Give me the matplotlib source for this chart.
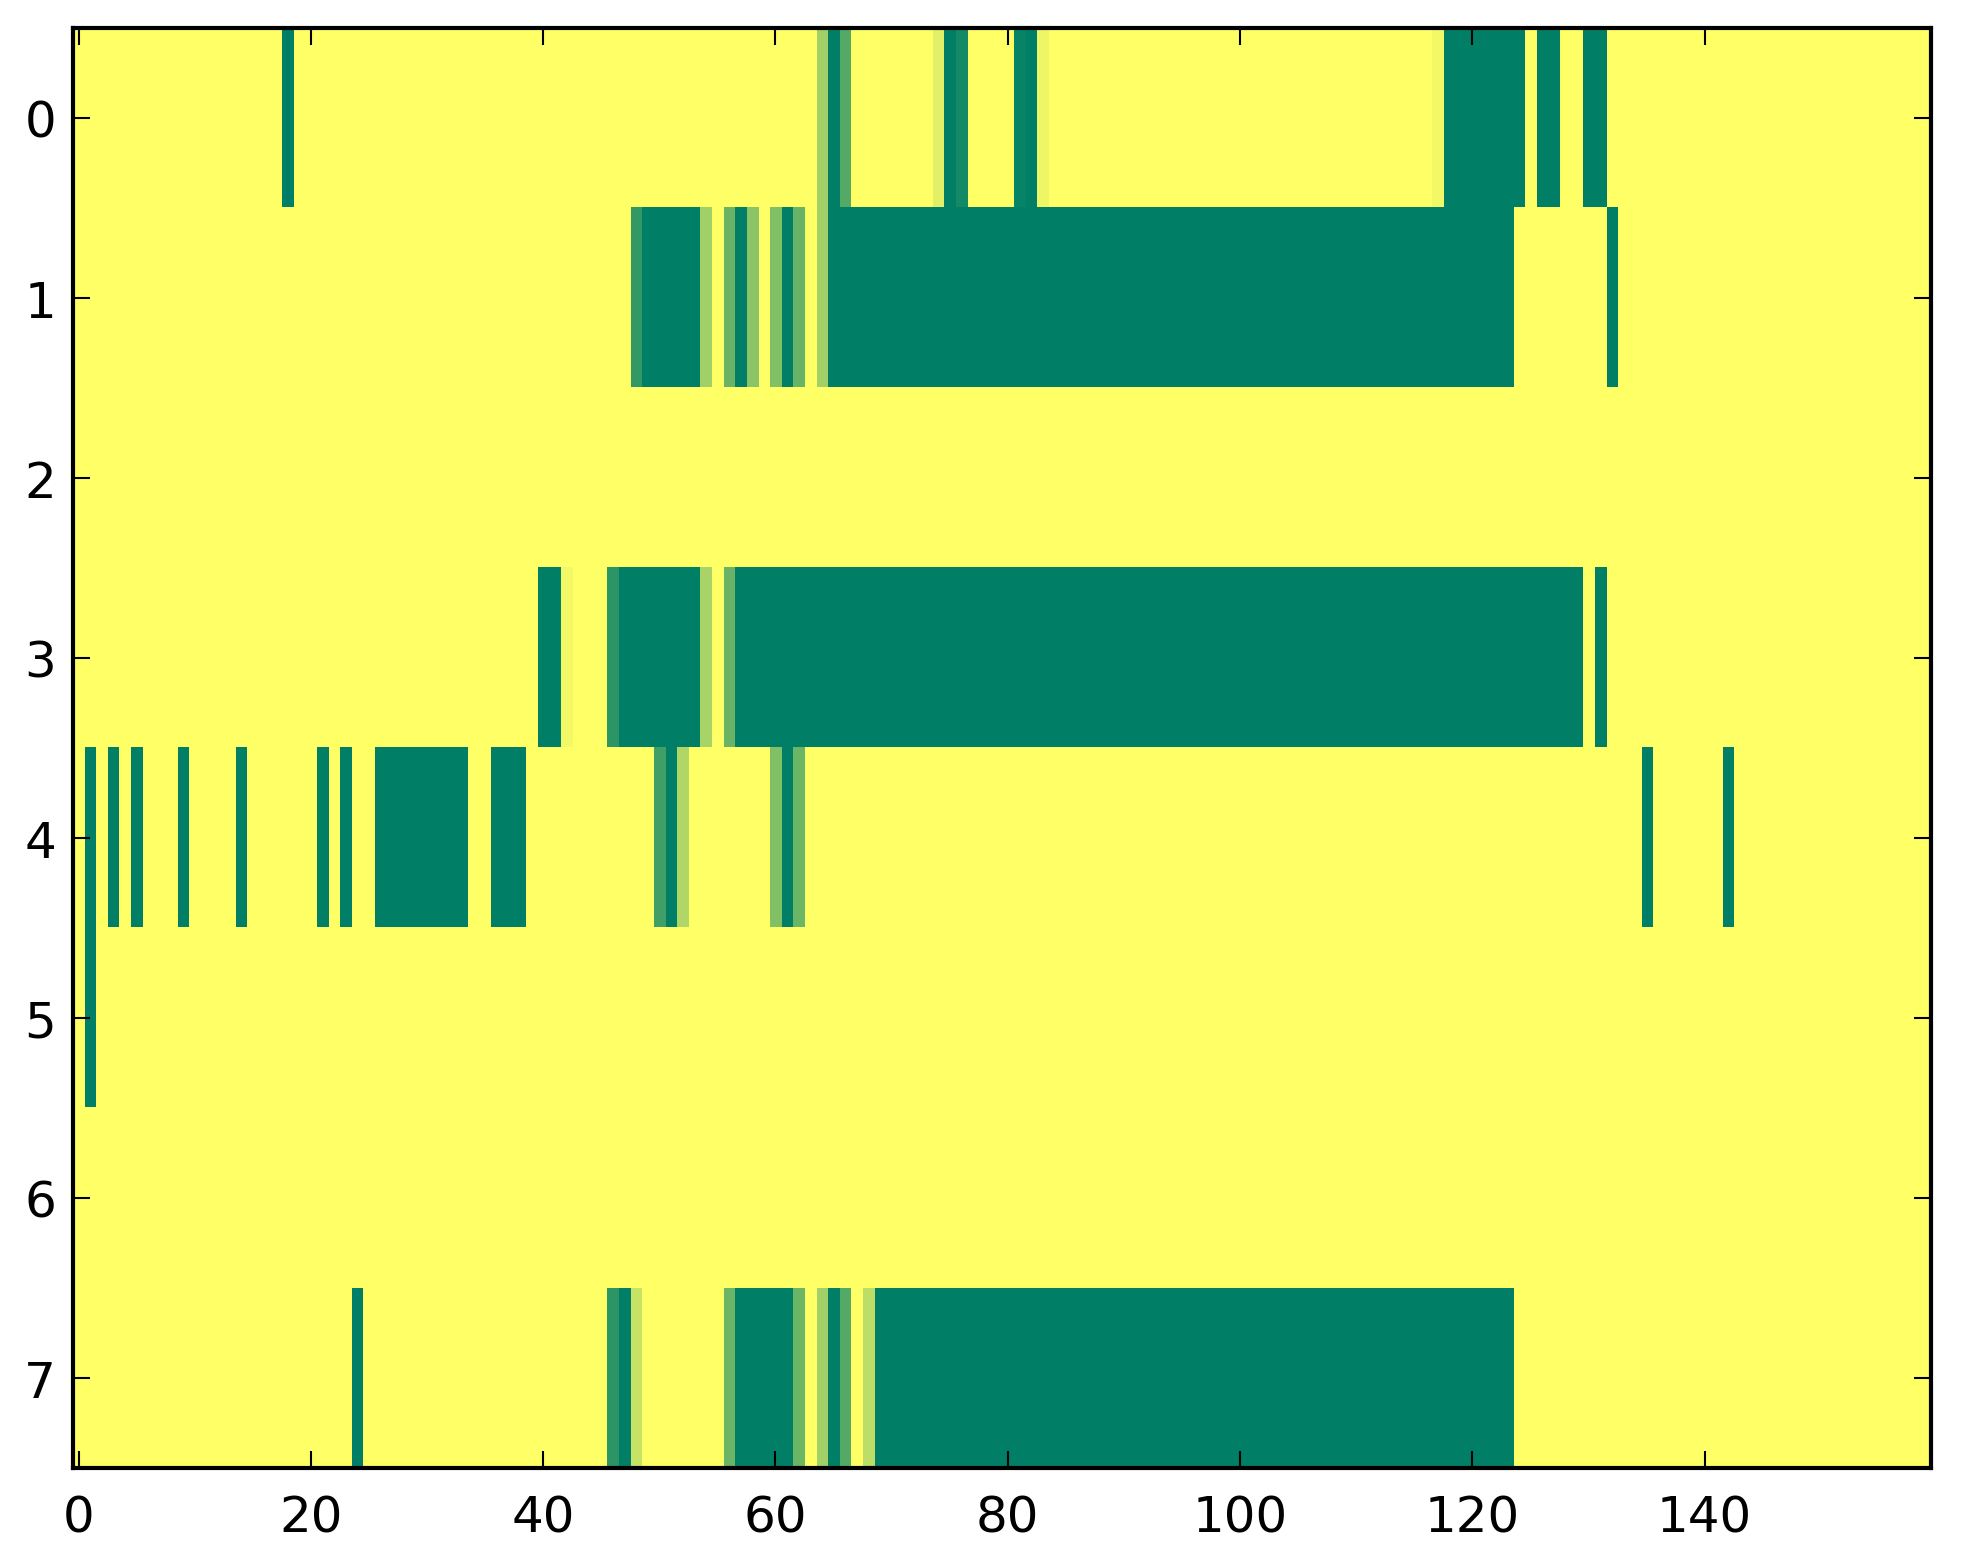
import numpy as np
import matplotlib
matplotlib.use("Agg")
import matplotlib.pyplot as plt

# grid size
n_rows = 8
n_cols = 160

# non-zero cells per row as (first col, last col, value)
row0 = [(18, 18, 1.0), (64, 64, 0.37), (65, 65, 1.0), (66, 66, 0.67),
        (74, 74, 0.12), (75, 75, 1.0), (76, 76, 0.92), (81, 81, 0.97),
        (82, 82, 1.0), (83, 83, 0.07), (117, 117, 0.05), (118, 124, 1.0),
        (126, 127, 1.0), (130, 131, 1.0)]
row1 = [(48, 48, 0.8), (49, 53, 1.0), (54, 54, 0.37), (56, 56, 0.59),
        (57, 57, 1.0), (58, 58, 0.46), (60, 60, 0.49), (61, 61, 1.0),
        (62, 62, 0.59), (64, 64, 0.37), (65, 123, 1.0), (132, 132, 1.0)]
row2 = []
row3 = [(40, 41, 1.0), (42, 42, 0.05), (46, 46, 0.83), (47, 53, 1.0),
        (54, 54, 0.34), (56, 56, 0.59), (57, 129, 1.0), (131, 131, 1.0)]
row4 = [(1, 1, 1.0), (3, 3, 1.0), (5, 5, 1.0), (9, 9, 1.0), (14, 14, 1.0),
        (21, 21, 1.0), (23, 23, 1.0), (26, 33, 1.0), (36, 38, 1.0),
        (50, 50, 0.75), (51, 51, 1.0), (52, 52, 0.31), (60, 60, 0.49),
        (61, 61, 1.0), (62, 62, 0.58), (135, 135, 1.0), (142, 142, 1.0)]
row5 = [(1, 1, 1.0)]
row6 = []
row7 = [(24, 24, 1.0), (46, 46, 0.83), (47, 47, 1.0), (48, 48, 0.22),
        (56, 56, 0.58), (57, 61, 1.0), (62, 62, 0.58), (64, 64, 0.37),
        (65, 65, 1.0), (66, 66, 0.67), (68, 68, 0.26), (69, 123, 1.0)]

rows = [row0, row1, row2, row3, row4, row5, row6, row7]

grid = np.zeros((n_rows, n_cols))
for r, runs in enumerate(rows):
    for a, b, v in runs:
        grid[r, a:b + 1] = v

plt.rcParams['font.family'] = ['DejaVu Sans']
fig = plt.figure(figsize=(1963 / 300, 1564 / 300), dpi=300)
ax = fig.add_axes([0.0371, 0.0607, 0.9466, 0.921])
ax.imshow(grid, cmap='summer_r', vmin=0, vmax=1, aspect='auto',
          interpolation='nearest')

ax.set_xticks(np.arange(0, 141, 20))
ax.set_yticks(np.arange(0, 8))
ax.tick_params(direction='in', top=True, right=True, length=4, width=0.5,
               labelsize=12, pad=4)
ax.tick_params(axis='x', pad=6)
for s in ax.spines.values():
    s.set_linewidth(1.0)

fig.savefig('out.png', dpi=300, facecolor='white')
